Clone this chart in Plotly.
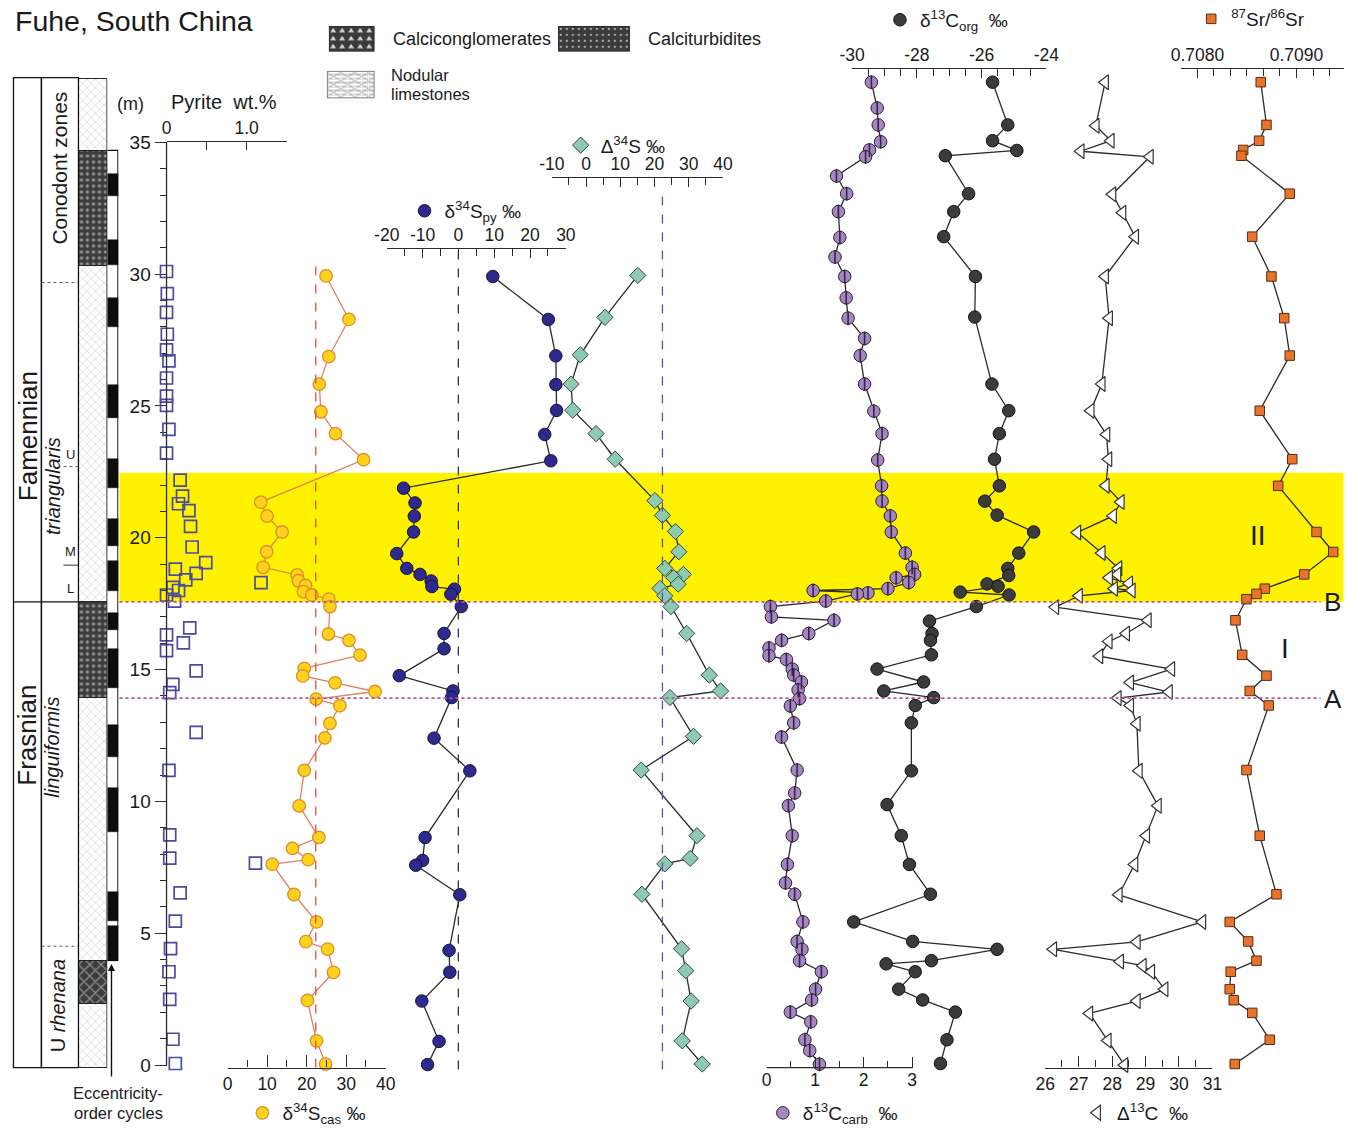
import base64
import plotly.graph_objects as go

W, H = 1357, 1132
FONT = "Liberation Sans, Arial, Helvetica, sans-serif"
INK = "#2b2b2b"
TXT = "#1a1a1a"

# placement of the drawing on the final page: page = S * figure + B
XS, XB = 0.98, 11.6
YS, YB = 0.99, 2.0


def fx(px):
    return min(max((px - XB) / XS, 0.5), W - 0.5) / W


def fy(py):
    return 1 - min(max((py - YB) / YS, 0.5), H - 0.5) / H


# depth scale of the section on the page (0 m position, pixels per metre)
Y0_PX, M_PX = 1069.5, 26.5


def depth_at(py):
    return (Y0_PX - py) / M_PX


# ------------------------------------------------------------------
# Measured series: stratigraphic height (m) and value
# ------------------------------------------------------------------
pyrite_h = [30.10, 29.26, 28.55, 27.72, 27.13, 26.71, 26.06, 25.37, 25.02, 24.11, 23.21,
            22.19, 21.58, 21.29, 21.03, 20.43, 19.65, 19.06, 18.81, 18.65, 18.40, 18.30,
            18.12, 18.00, 17.83, 17.60, 16.58, 16.32, 16.01, 15.72, 14.95, 14.44, 14.13,
            12.62, 11.18, 8.73, 7.85, 7.66, 6.53, 5.46, 4.42, 3.54, 2.49, 0.98, 0.06]
pyrite_wt = [0.00, 0.01, 0.00, 0.01, 0.00, 0.03, 0.00, 0.00, 0.00, 0.03, 0.00,
             0.17, 0.20, 0.15, 0.28, 0.30, 0.32, 0.49, 0.11, 0.37, 0.24, 1.18,
             0.08, 0.15, 0.00, 0.10, 0.29, 0.00, 0.21, 0.00, 0.37, 0.08, 0.04,
             0.37, 0.03, 0.04, 0.04, 1.11, 0.17, 0.11, 0.05, 0.03, 0.04, 0.08, 0.11]

cas_h = [29.93, 28.28, 26.87, 25.83, 24.78, 23.95, 22.96, 21.35, 20.82, 20.22, 19.47,
         18.88, 18.59, 18.37, 18.19, 17.96, 17.83, 17.67, 17.39, 16.35, 16.11, 15.55,
         15.05, 14.76, 14.50, 14.17, 13.88, 13.63, 12.96, 12.41, 11.18, 9.83, 8.64,
         8.22, 7.79, 7.62, 6.47, 5.43, 4.68, 4.40, 3.52, 2.45, 0.92, 0.04]
cas_d34s = [24.9, 30.7, 25.6, 23.2, 23.6, 27.3, 34.4, 8.4, 10.0, 13.8, 9.9,
            9.0, 17.6, 17.9, 19.7, 19.2, 21.3, 25.6, 25.9, 25.5, 30.7, 33.5,
            19.4, 19.0, 27.2, 37.3, 22.4, 28.4, 25.9, 24.6, 19.4, 18.1, 23.1,
            16.4, 20.4, 11.3, 16.8, 22.5, 19.8, 25.3, 26.8, 20.2, 22.5, 24.8]

py_h = [29.91, 28.28, 26.90, 25.81, 24.83, 23.92, 22.92, 21.88, 21.32, 20.82, 20.22,
        19.40, 18.84, 18.61, 18.36, 18.15, 18.05, 17.86, 17.39, 16.37, 15.79, 14.77,
        14.19, 13.94, 12.40, 11.16, 8.63, 7.76, 7.58, 6.46, 4.35, 3.52, 2.43, 0.90, 0.02]
py_d34s = [9.6, 25.1, 27.2, 27.2, 27.4, 24.1, 25.8, -15.3, -12.1, -12.3, -12.5,
           -17.2, -14.4, -10.7, -7.6, -7.4, -1.1, -2.1, 0.8, -4.0, -4.0, -16.5,
           -1.5, -1.9, -6.8, 3.2, -9.3, -10.0, -11.9, 0.4, -2.6, -2.4, -10.2, -5.4, -8.6]

cap_h = [29.95, 28.36, 26.94, 25.83, 24.84, 23.95, 22.98, 21.41, 20.85, 20.24, 19.47,
         18.84, 18.61, 18.49, 18.24, 18.08, 17.80, 17.39, 16.37, 14.79, 14.19, 13.94,
         12.47, 11.19, 8.70, 7.84, 7.63, 6.48, 4.41, 3.58, 2.43, 0.92, 0.04]
cap_D34s = [15.1, 5.5, -1.7, -4.4, -3.9, 2.9, 8.5, 20.1, 22.3, 26.1, 27.1,
            23.0, 28.4, 25.6, 26.9, 21.6, 23.0, 24.8, 29.4, 36.0, 39.3, 24.5,
            31.4, 16.1, 32.4, 30.4, 23.0, 16.3, 27.9, 29.1, 30.7, 28.1, 33.9]

carb_h = [37.28, 36.30, 35.66, 35.02, 34.71, 34.45, 33.72, 33.05, 32.37, 31.39, 30.65,
          29.91, 29.10, 28.33, 27.56, 26.91, 25.83, 24.80, 23.95, 22.95, 21.97, 21.39,
          20.83, 20.22, 19.42, 18.88, 18.61, 18.48, 18.30, 18.07, 18.00, 17.91, 17.87,
          17.60, 17.39, 17.00, 16.87, 16.37, 16.11, 15.82, 15.53, 15.38, 15.02, 14.79,
          14.53, 14.23, 13.90, 13.62, 12.98, 12.44, 11.19, 10.32, 9.84, 8.70, 7.61,
          6.91, 6.48, 5.43, 4.69, 4.39, 3.96, 3.54, 2.88, 2.47, 2.01, 1.64, 0.96, 0.55, 0.03]
carb_d13c = [2.16, 2.28, 2.30, 2.35, 2.12, 2.04, 1.44, 1.65, 1.48, 1.51, 1.41,
             1.61, 1.64, 1.68, 2.02, 1.93, 2.02, 2.21, 2.38, 2.29, 2.37, 2.38,
             2.55, 2.57, 2.86, 3.00, 3.05, 2.67, 2.93, 2.50, 0.96, 2.09, 1.87,
             1.22, 0.08, 0.10, 1.39, 0.87, 0.31, 0.05, 0.05, 0.41, 0.53, 0.56,
             0.72, 0.65, 0.68, 0.49, 0.56, 0.31, 0.63, 0.58, 0.45, 0.53, 0.43,
             0.39, 0.58, 0.75, 0.63, 0.73, 0.68, 1.13, 1.01, 0.93, 0.49, 0.91, 0.79, 0.89, 1.09]

org_h = [37.28, 35.66, 35.06, 34.69, 34.49, 33.05, 32.37, 31.42, 29.91, 28.37, 25.83,
         24.82, 23.95, 22.98, 21.97, 21.39, 20.86, 20.22, 19.42, 18.84, 18.57, 18.25,
         18.16, 17.94, 17.83, 17.39, 16.84, 16.37, 16.11, 15.56, 15.02, 14.53, 14.19,
         13.94, 13.64, 12.98, 11.16, 9.88, 8.70, 7.61, 6.48, 5.43, 4.69, 4.39, 3.96,
         3.84, 3.54, 2.88, 2.47, 2.01, 0.96, 0.06]
org_d13c = [-25.66, -25.19, -25.66, -24.91, -27.12, -26.40, -26.86, -27.17, -26.19, -26.21, -25.68,
            -25.16, -25.45, -25.60, -25.45, -25.90, -25.52, -24.39, -24.85, -25.19, -25.16, -25.83,
            -25.49, -26.66, -25.15, -26.16, -27.61, -27.53, -27.58, -27.55, -29.23, -27.79, -29.02,
            -27.48, -28.05, -28.17, -28.17, -28.92, -28.48, -28.23, -27.58, -29.95, -28.13, -25.52, -27.55,
            -28.95, -28.05, -28.56, -27.82, -26.81, -27.07, -27.27]

cap13_h = [37.28, 35.63, 35.06, 34.66, 34.45, 33.03, 32.33, 31.42, 29.91, 28.33, 25.83,
           24.82, 23.92, 22.98, 21.97, 21.36, 20.83, 20.20, 19.42, 18.84, 18.61, 18.48,
           18.27, 18.07, 18.00, 17.80, 17.37, 16.87, 16.37, 16.07, 15.51, 15.02, 14.51,
           14.15, 13.92, 13.64, 12.95, 11.16, 9.84, 8.70, 7.61, 6.46, 5.43, 4.67, 4.39,
           3.93, 3.77, 3.54, 2.88, 2.43, 1.96, 0.93, 0.00]
cap13_D13c = [27.79, 27.51, 27.96, 27.06, 29.13, 28.01, 28.31, 28.69, 27.79, 27.91, 27.69,
              27.36, 27.83, 27.89, 27.81, 28.26, 28.03, 26.96, 27.69, 28.19, 28.16, 27.91,
              28.51, 28.06, 28.59, 27.01, 26.30, 29.07, 28.42, 27.90, 27.62, 29.77, 28.54,
              29.70, 28.17, 28.54, 28.74, 28.80, 29.37, 29.02, 28.67, 28.20, 30.70, 28.74, 26.24,
              28.24, 28.92, 29.17, 29.57, 28.74, 27.32, 27.87, 28.37]

sr_h = [37.28, 35.66, 35.06, 34.71, 34.49, 33.05, 31.42, 29.91, 28.33, 26.91, 24.82,
        22.98, 21.97, 20.22, 19.46, 18.61, 18.07, 17.87, 17.67, 16.87, 15.56, 14.77,
        14.19, 13.64, 11.19, 8.70, 6.48, 5.43, 4.69, 3.96, 3.54, 2.88, 2.46, 1.98, 0.96, 0.04]
sr_ratio = [0.708639, 0.708697, 0.708623, 0.708462, 0.708444, 0.708932, 0.708553, 0.708747,
            0.708876, 0.708932, 0.708629, 0.708957, 0.708815, 0.709202, 0.709371, 0.709078,
            0.708680, 0.708596, 0.708495, 0.708384, 0.708452, 0.708697, 0.708528, 0.708720,
            0.708495, 0.708629, 0.708798, 0.708326, 0.708512, 0.708596, 0.708336, 0.708326,
            0.708367, 0.708553, 0.708730, 0.708377]

# reference lines
cas_mean = 22.3      # ‰, δ34S_cas
py_zero = 0.0        # ‰, δ34S_py
cap_mean = 22.3      # ‰, Δ34S

# lithology units (base, top in m)
litho_base = [-0.1, 2.30, 3.95, 13.92, 17.57, 30.30, 34.66]
litho_top = [2.30, 3.95, 13.92, 17.57, 30.30, 34.66, 37.40]
litho_kind = ["nod", "cgl", "nod", "tur", "nod", "tur", "nod"]

# eccentricity-order cycles (black intervals)
ecc_base_all, ecc_top_all = 3.95, 34.66
ecc_black_base = [3.95, 5.45, 8.84, 11.67, 14.30, 16.50, 17.98, 19.67, 21.87, 24.55, 28.00, 30.34, 32.95]
ecc_black_top = [5.27, 6.58, 10.50, 12.90, 15.80, 17.14, 19.11, 20.72, 23.00, 25.80, 29.10, 31.28, 33.78]

# event horizons and interval II
level_A, level_B = 13.92, 17.57
band_II = (17.57, 22.47)
ff_boundary = 17.57

fig = go.Figure()


def value_axis(lo, hi, left, right, py, side, tickvals, ticktext, minor_vals,
               major_len=8, minor_len=8, extend_right=0.0):
    # value <-> page pixel, then page pixel -> paper fraction
    k = (right - left) / (hi - lo)
    r_px = right + extend_right
    d0, d1 = fx(left), fx(r_px)
    # values at the (possibly clamped) domain ends
    p_left = d0 * W * XS + XB
    p_right = d1 * W * XS + XB
    v_left = lo + (p_left - left) / k
    v_right = lo + (p_right - left) / k
    eps = (hi - lo) * 1e-6
    return dict(
        domain=[d0, d1], range=[v_left - eps, v_right + eps],
        anchor="free", position=fy(py), side=side,
        showgrid=False, zeroline=False, showline=extend_right == 0,
        linecolor=INK, linewidth=1.2,
        ticks="inside", ticklen=major_len, tickwidth=1.2, tickcolor=INK,
        tickmode="array", tickvals=tickvals, ticktext=ticktext,
        tickfont=dict(family=FONT, size=17.5, color=TXT),
        minor=dict(tickvals=minor_vals, ticks="inside", ticklen=minor_len,
                   tickwidth=1.2, tickcolor=INK),
        fixedrange=True,
    )


def frange(a, b, step):
    out, v = [], a
    while v <= b + 1e-9:
        out.append(round(v, 6))
        v += step
    return out


BOTTOM = 1072
axes = {
    "xaxis3": value_axis(0, 1.5, 165, 285, 141, "top", [0, 1.0], ["0", "1.0"], [0.5, 1.5]),
    "xaxis4": value_axis(0, 40, 226, 384, BOTTOM, "bottom", [0, 10, 20, 30, 40],
                         ["0", "10", "20", "30", "40"], [5, 15, 25, 35], 12, 7),
    "xaxis5": value_axis(-20, 30, 385, 564, 248, "top", [-20, -10, 0, 10, 20, 30],
                         ["-20", "-10", "0", "10", "20", "30"], [-15, -5, 5, 15, 25], 9, 7),
    "xaxis6": value_axis(-10, 40, 550, 721, 177, "top", [-10, 0, 10, 20, 30, 40],
                         ["-10", "0", "10", "20", "30", "40"], [-5, 5, 15, 25, 35], 9, 7),
    "xaxis7": value_axis(0, 3, 764.5, 910, BOTTOM, "bottom", [0, 1, 2, 3], ["0", "1", "2", "3"],
                         [0.5, 1.5, 2.5], 11, 7, extend_right=60),
    "xaxis8": value_axis(-30, -24, 850, 1044, 67, "top", [-30, -28, -26, -24],
                         ["-30", "-28", "-26", "-24"],
                         [v for v in frange(-30, -24, 0.5) if v not in (-30, -28, -26, -24)], 9, 7),
    "xaxis9": value_axis(26, 31, 1043, 1210, BOTTOM, "bottom", [26, 27, 28, 29, 30, 31],
                         ["26", "27", "28", "29", "30", "31"], frange(26.5, 30.5, 1.0), 11, 7),
    "xaxis10": value_axis(0.7080 - 0.001 / 6, 0.7095, 1178.5, 1343.5, 67, "top",
                          [0.7080, 0.7090], ["0.7080", "0.7090"],
                          [round(0.7080 + k * 0.001 / 6, 7) for k in range(-1, 10) if k not in (0, 6)], 9, 7),
}

# hidden axes for the lithology and cycle columns
axes["xaxis"] = dict(domain=[fx(77), fx(106)], range=[-0.5, 0.5], visible=False,
                     anchor="free", position=0, fixedrange=True)
axes["xaxis2"] = dict(domain=[fx(106), fx(117)], range=[-0.5, 0.5], visible=False,
                      anchor="free", position=0, fixedrange=True)

# ------------------------------------------------------------------
# Lithology column (bars with fill patterns)
# ------------------------------------------------------------------
litho_style = {
    "nod": dict(color="white", pattern=dict(shape="x", fgcolor="#8c8c8c", bgcolor="white",
                                            size=6, solidity=0.16)),
    "tur": dict(color="#3c3c3c", pattern=dict(shape=".", fgcolor="#e8e8e8", bgcolor="#3c3c3c",
                                              size=6, solidity=0.25)),
    "cgl": dict(color="#3c3c3c", pattern=dict(shape="x", fgcolor="#e0e0e0", bgcolor="#3c3c3c",
                                              size=8, solidity=0.3)),
}
for kind in ["nod", "tur", "cgl"]:
    idx = [i for i, k in enumerate(litho_kind) if k == kind]
    fig.add_trace(go.Bar(
        x=[0] * len(idx), base=[litho_base[i] for i in idx],
        y=[litho_top[i] - litho_base[i] for i in idx], width=[1] * len(idx),
        xaxis="x", yaxis="y", showlegend=False, hoverinfo="skip",
        marker=dict(color=litho_style[kind]["color"], pattern=litho_style[kind]["pattern"],
                    line=dict(color="#222", width=1)),
    ))

# eccentricity column
fig.add_trace(go.Bar(x=[0], base=[ecc_base_all], y=[ecc_top_all - ecc_base_all], width=[1],
                     xaxis="x2", yaxis="y", showlegend=False, hoverinfo="skip",
                     marker=dict(color="white", line=dict(color="#111", width=1.2))))
fig.add_trace(go.Bar(x=[0] * len(ecc_black_base), base=ecc_black_base,
                     y=[t - b for b, t in zip(ecc_black_base, ecc_black_top)],
                     width=[1] * len(ecc_black_base), xaxis="x2", yaxis="y",
                     showlegend=False, hoverinfo="skip",
                     marker=dict(color="#0d0d0d", line=dict(color="#0d0d0d", width=0.5))))

# ------------------------------------------------------------------
# Geochemical profiles
# ------------------------------------------------------------------


def profile(xs, ys, axis, line_color, marker, legend=None, name=None, draw_line=True):
    if draw_line:
        fig.add_trace(go.Scatter(x=xs, y=ys, xaxis=axis, yaxis="y", mode="lines",
                                 line=dict(color=line_color, width=1.3),
                                 showlegend=False, hoverinfo="skip"))
    fig.add_trace(go.Scatter(x=xs, y=ys, xaxis=axis, yaxis="y", mode="markers",
                             marker=marker, cliponaxis=False, name=name,
                             showlegend=legend is not None, legend=legend or "legend"))


profile(pyrite_wt, pyrite_h, "x3", None,
        dict(symbol="square-open", size=12, color="#4b4ba6", line=dict(width=1.7, color="#4b4ba6")),
        draw_line=False)
profile(cas_d34s, cas_h, "x4", "#e07f62",
        dict(symbol="circle", size=12.5, color="#ffd21c", line=dict(width=1.3, color="#de8d2a")),
        "legend", "δ<sup>34</sup>S<sub>cas</sub> ‰")
profile(py_d34s, py_h, "x5", "#2a2a2a",
        dict(symbol="circle", size=12.5, color="#2d2a8c", line=dict(width=1, color="#121240")),
        "legend2", "δ<sup>34</sup>S<sub>py</sub> ‰")
profile(cap_D34s, cap_h, "x6", "#2a2a2a",
        dict(symbol="diamond", size=12.5, color="#8ec9b1", line=dict(width=1, color="#2e4a42")),
        "legend3", "Δ<sup>34</sup>S ‰")
profile(carb_d13c, carb_h, "x7", "#2a2a2a",
        dict(symbol="circle", size=12.5, color="#a487c2", line=dict(width=1, color="#2a2030")),
        "legend4", "δ<sup>13</sup>C<sub>carb</sub>  ‰")
fig.add_trace(go.Scatter(x=carb_d13c, y=carb_h, xaxis="x7", yaxis="y", mode="markers",
                         marker=dict(symbol="line-ns", size=10, line=dict(width=1.6, color="#3a2446")),
                         cliponaxis=False, showlegend=False, hoverinfo="skip"))
profile(org_d13c, org_h, "x8", "#2a2a2a",
        dict(symbol="circle", size=12.5, color="#3b3b3b", line=dict(width=1, color="#111")),
        "legend5", "δ<sup>13</sup>C<sub>org</sub>  ‰")
profile(cap13_D13c, cap13_h, "x9", "#2a2a2a",
        dict(symbol="triangle-left", size=13, color="white", line=dict(width=1.2, color="#333")),
        "legend6", "Δ<sup>13</sup>C  ‰")
profile(sr_ratio, sr_h, "x10", "#2a2a2a",
        dict(symbol="square", size=9.5, color="#e8742c", line=dict(width=1, color="#5a2c10")),
        "legend7", "<sup>87</sup>Sr/<sup>86</sup>Sr")

# ------------------------------------------------------------------
# Shapes: interval II band, event lines, reference lines, column frames
# ------------------------------------------------------------------
shapes = [
    dict(type="rect", xref="paper", yref="y", x0=fx(118), x1=fx(1347), y0=band_II[0], y1=band_II[1],
         fillcolor="#fff200", line=dict(width=0), layer="below"),
    dict(type="line", xref="paper", yref="y", x0=fx(165), x1=fx(165), y0=0, y1=35,
         line=dict(color=INK, width=1.3)),
    dict(type="line", xref="x4", yref="y", x0=cas_mean, x1=cas_mean, y0=depth_at(1072), y1=depth_at(263),
         line=dict(color="#e84a3c", width=1.3, dash="dash")),
    dict(type="line", xref="x5", yref="y", x0=py_zero, x1=py_zero, y0=depth_at(1074), y1=depth_at(248),
         line=dict(color="#333", width=1.3, dash="dash")),
    dict(type="line", xref="x6", yref="y", x0=cap_mean, x1=cap_mean, y0=depth_at(1074), y1=depth_at(190),
         line=dict(color="#5050b0", width=1.3, dash="dash")),
    dict(type="line", xref="x7", yref="paper", x0=0, x1=3, y0=fy(BOTTOM), y1=fy(BOTTOM),
         line=dict(color=INK, width=1.2)),
]
for lvl in (level_A, level_B):
    shapes.append(dict(type="line", xref="paper", yref="y", x0=fx(118), x1=fx(1318), y0=lvl, y1=lvl,
                       line=dict(color="#b0559c", width=1.6, dash="dot")))

# stage and zone columns
col_top, col_bot = 77, 1072
for a, b in ((8, 40), (40, 77)):
    shapes.append(dict(type="rect", xref="paper", yref="paper", x0=fx(a), x1=fx(b),
                       y0=fy(col_bot), y1=fy(col_top), line=dict(color="#111", width=1.3)))
shapes.append(dict(type="line", xref="paper", yref="y", x0=fx(8), x1=fx(77),
                   y0=ff_boundary, y1=ff_boundary, line=dict(color="#111", width=1.3)))
for py in (283, 950):
    shapes.append(dict(type="line", xref="paper", yref="paper", x0=fx(40), x1=fx(77), y0=fy(py), y1=fy(py),
                       line=dict(color="#555", width=1, dash="dot")))
shapes.append(dict(type="line", xref="paper", yref="paper", x0=fx(62), x1=fx(77), y0=fy(468), y1=fy(468),
                   line=dict(color="#555", width=1, dash="dot")))
shapes.append(dict(type="line", xref="paper", yref="paper", x0=fx(62), x1=fx(77), y0=fy(567), y1=fy(567),
                   line=dict(color="#333", width=1)))

# ------------------------------------------------------------------
# Text
# ------------------------------------------------------------------


def txt(text, px, py, size=17, xanchor="center", yanchor="middle", angle=0, color=TXT):
    return dict(text=text, x=fx(px), y=fy(py), xref="paper", yref="paper", showarrow=False,
                xanchor=xanchor, yanchor=yanchor, textangle=angle,
                font=dict(family=FONT, size=size, color=color))


annotations = [
    txt("Fuhe, South China", 10, 20, 28.5, xanchor="left"),
    txt("Calciconglomerates", 389, 38, 18, xanchor="left"),
    txt("Calciturbidites", 644, 38, 18, xanchor="left"),
    txt("Nodular", 387, 74, 16.5, xanchor="left"),
    txt("limestones", 387, 93, 16.5, xanchor="left"),
    txt("(m)", 129, 104, 18),
    txt("Pyrite  wt.%", 222, 102, 20),
    txt("Famennian", 26, 437, 26, angle=-90),
    txt("Frasnian", 26, 738, 26, angle=-90),
    txt("Conodont zones", 58, 168, 21, angle=-90),
    txt("<i>triangularis</i>", 51, 487, 20, angle=-90),
    txt("U", 69, 456, 13),
    txt("M", 69, 553, 13),
    txt("L", 69, 590, 13),
    txt("<i>linguiformis</i>", 51, 750, 20, angle=-90),
    txt("U <i>rhenana</i>", 56, 1010, 20, angle=-90),
    txt("Eccentricity-", 117, 1098, 16.5),
    txt("order cycles", 117, 1118, 16.5),
    txt("A", 1330, 702, 26),
    txt("B", 1330, 604, 26),
    txt("I", 1283, 651, 28),
    txt("II", 1256, 537, 28),
    dict(text="", x=fx(110), y=fy(968), xref="paper", yref="paper", showarrow=True,
         ax=0, ay=114, arrowhead=2, arrowsize=1, arrowwidth=1.4, arrowcolor="#111"),
]

# lithology key swatches


def svg_uri(svg):
    return "data:image/svg+xml;base64," + base64.b64encode(svg.encode()).decode()


dots_svg = ("<svg xmlns='http://www.w3.org/2000/svg' width='72' height='26'><defs>"
            "<pattern id='p' width='6' height='6' patternUnits='userSpaceOnUse'>"
            "<rect width='6' height='6' fill='#3b3b3b'/><circle cx='3' cy='3' r='1' fill='#d8d8d8'/>"
            "</pattern></defs><rect x='0.5' y='0.5' width='71' height='25' fill='url(#p)' stroke='#222'/></svg>")
tri_svg = ("<svg xmlns='http://www.w3.org/2000/svg' width='46' height='26'><defs>"
           "<pattern id='p' width='9' height='8' patternUnits='userSpaceOnUse'>"
           "<rect width='9' height='8' fill='#3b3b3b'/><polygon points='1.5,6.5 4.5,2 7.5,6.5' fill='#d8d8d8'/>"
           "</pattern></defs><rect x='0.5' y='0.5' width='45' height='25' fill='url(#p)' stroke='#222'/></svg>")
nod_svg = ("<svg xmlns='http://www.w3.org/2000/svg' width='48' height='28'><defs>"
           "<pattern id='p' width='14' height='8' patternUnits='userSpaceOnUse'>"
           "<rect width='14' height='8' fill='white'/>"
           "<ellipse cx='7' cy='2' rx='6.5' ry='2' fill='none' stroke='#999' stroke-width='0.8'/>"
           "<ellipse cx='0' cy='6' rx='6.5' ry='2' fill='none' stroke='#999' stroke-width='0.8'/>"
           "<ellipse cx='14' cy='6' rx='6.5' ry='2' fill='none' stroke='#999' stroke-width='0.8'/>"
           "</pattern></defs><rect x='0.5' y='0.5' width='47' height='27' fill='url(#p)' stroke='#666'/></svg>")


def key_image(svg, px, py, w, h):
    return dict(source=svg_uri(svg), xref="paper", yref="paper", x=fx(px), y=fy(py),
                sizex=fx(px + w) - fx(px), sizey=fy(py) - fy(py + h),
                xanchor="left", yanchor="top", sizing="stretch", layer="above")


images = [
    key_image(tri_svg, 327, 25, 46, 26),
    key_image(dots_svg, 556, 25, 72, 26),
    key_image(nod_svg, 325, 70, 48, 28),
]


def legend_at(px_text, py):
    return dict(x=fx(px_text) - 40 / W, y=fy(py), xanchor="left", yanchor="middle",
                bgcolor="rgba(0,0,0,0)", borderwidth=0, itemclick=False, itemdoubleclick=False,
                font=dict(family=FONT, size=19, color=TXT))


# depth range spanning the full figure height
y_top = depth_at(YB)
y_bot = depth_at(YS * H + YB)

fig.update_layout(
    width=W, height=H, autosize=False,
    margin=dict(l=0, r=0, t=0, b=0),
    paper_bgcolor="white", plot_bgcolor="rgba(0,0,0,0)",
    barmode="overlay", bargap=0,
    yaxis=dict(domain=[0, 1], range=[y_bot, y_top], anchor="free", position=fx(165),
               showgrid=False, zeroline=False, showline=False,
               tickmode="array", tickvals=[0, 5, 10, 15, 20, 25, 30, 35],
               ticks="outside", ticklen=12, tickwidth=1.3, tickcolor=INK,
               tickfont=dict(family=FONT, size=19, color=TXT),
               minor=dict(tickvals=[v for v in range(1, 35) if v % 5], ticks="outside",
                          ticklen=7, tickwidth=1.2, tickcolor=INK),
               fixedrange=True),
    shapes=shapes, annotations=annotations, images=images,
    legend=legend_at(280, 1118),
    legend2=legend_at(442, 211),
    legend3=legend_at(598, 145),
    legend4=legend_at(800, 1118),
    legend5=legend_at(917, 19),
    legend6=legend_at(1114, 1118),
    legend7=legend_at(1228, 18),
    **axes,
)

fig.write_html("out.html")
